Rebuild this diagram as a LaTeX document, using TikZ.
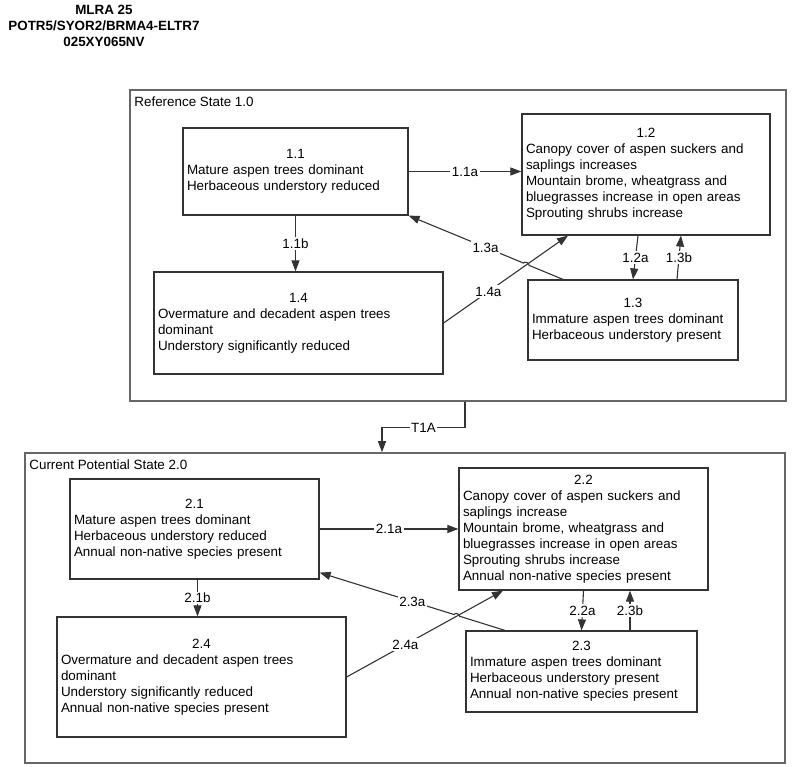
\documentclass[tikz,border=0pt]{standalone}
\usepackage{fontspec}
\setmainfont{Liberation Sans}
\usetikzlibrary{positioning,arrows.meta,calc}

\begin{document}
\begin{tikzpicture}
		[x=1pt,y=-1pt,
		state/.style={rectangle,draw=black!80,line width=1.2pt,fill=white,inner sep=4pt,align=left,font=\fontsize{13.4}{16}\selectfont},
		frame/.style={rectangle,draw=black!60,line width=1.6pt,inner sep=0pt},
		framelabel/.style={inner sep=0pt,font=\fontsize{13.4}{16}\selectfont},
		trans/.style={draw=black!80,line width=1.1pt,-{Triangle[length=11pt,width=8pt]}},
		lbl/.style={fill=white,inner sep=1.5pt,font=\fontsize{13.4}{16}\selectfont}]
		\useasboundingbox (0,0) rectangle (800,767);

		\node [font=\bfseries\fontsize{13.4}{16}\selectfont,align=center] (title) at (104,26) {MLRA 25\\POTR5/SYOR2/BRMA4-ELTR7\\025XY065NV};

		% state frames
		\node [frame,minimum width=656pt,minimum height=311pt] (ref) at (458,245.5) {};
		\node [framelabel] (reflabel) [below right=7pt and 5pt of ref.north west] {Reference State 1.0};
		\node [frame,minimum width=760pt,minimum height=310pt] (cur) at (405,608) {};
		\node [framelabel] (curlabel) [below right=7pt and 5pt of cur.north west] {Current Potential State 2.0};

		% reference state
		\node [state,text width=217pt,minimum height=87pt] (s11) at (295.5,171.5) {\makebox[\hsize]{1.1}\\Mature aspen trees dominant\\Herbaceous understory reduced};
		\node [state,text width=240pt,minimum height=121pt] (s12) at (646,174.5) {\makebox[\hsize]{1.2}\\Canopy cover of aspen suckers and\\saplings increases\\Mountain brome, wheatgrass and\\bluegrasses increase in open areas\\Sprouting shrubs increase};
		\node [state,text width=202pt,minimum height=80pt] (s13) at (633,320) {\makebox[\hsize]{1.3}\\Immature aspen trees dominant\\Herbaceous understory present};
		\node [state,text width=281pt,minimum height=102pt] (s14) at (298.5,323) {\makebox[\hsize]{1.4}\\Overmature and decadent aspen trees\\dominant\\Understory significantly reduced};

		\draw [trans] (s11.east) -- node [lbl] {1.1a} (s11.east -| s12.west);
		\draw [trans] (s11.south) -- node [lbl] {1.1b} (s11.south |- s14.north);
		\draw [trans] ([xshift=-8pt]s12.south) -- node [lbl] {1.2a} (s13.north);
		\draw [trans] ([xshift=44pt]s13.north) -- node [lbl] {1.3b} ([xshift=35pt]s12.south);
		\draw [trans] (s14.east) -- node [lbl,pos=0.36] {1.4a} ([xshift=-78pt]s12.south);
		\coordinate (h13) at ([xshift=-70pt]s13.north);
		\draw [trans] (h13) -- ($(h13)!0.22!(s11.south east)$) to [bend right=90] ($(h13)!0.256!(s11.south east)$) -- node [lbl,pos=0.33] {1.3a} (s11.south east);

		\draw [trans] ([xshift=7pt]ref.south) -- ++(0,26) -| node [lbl,pos=0.25] {T1A} ([xshift=-23pt]cur.north);

		% current potential state
		\node [state,text width=241pt,minimum height=100pt] (s21) at (194.5,529) {\makebox[\hsize]{2.1}\\Mature aspen trees dominant\\Herbaceous understory reduced\\Annual non-native species present};
		\node [state,text width=241pt,minimum height=122pt] (s22) at (583.5,529) {\makebox[\hsize]{2.2}\\Canopy cover of aspen suckers and\\saplings increase\\Mountain brome, wheatgrass and\\bluegrasses increase in open areas\\Sprouting shrubs increase\\Annual non-native species present};
		\node [state,text width=223pt,minimum height=81pt] (s23) at (581.5,671.5) {\makebox[\hsize]{2.3}\\Immature aspen trees dominant\\Herbaceous understory present\\Annual non-native species present};
		\node [state,text width=281pt,minimum height=120pt] (s24) at (201.5,677) {\makebox[\hsize]{2.4}\\Overmature and decadent aspen trees\\dominant\\Understory significantly reduced\\Annual non-native species present};

		\draw [trans] (s21.east) -- node [lbl] {2.1a} (s22.west);
		\draw [trans] ([xshift=3pt]s21.south) -- node [lbl] {2.1b} ([xshift=3pt]s21.south |- s24.north);
		\draw [trans] (s22.south) -- node [lbl] {2.2a} (s23.north);
		\draw [trans] ([xshift=48.5pt]s23.north) -- node [lbl] {2.3b} ([xshift=48.5pt]s23.north |- s22.south);
		\draw [trans] (s24.east) -- node [lbl,pos=0.376] {2.4a} ([xshift=-80.5pt]s22.south);
		\coordinate (h23) at ([xshift=-76.5pt]s23.north);
		\coordinate (e21) at ([yshift=7pt]s21.south east);
		\draw [trans] (h23) -- ($(h23)!0.245!(e21)$) to [bend right=90] ($(h23)!0.275!(e21)$) -- node [lbl,pos=0.31] {2.3a} (e21);

	\end{tikzpicture}
\end{document}
